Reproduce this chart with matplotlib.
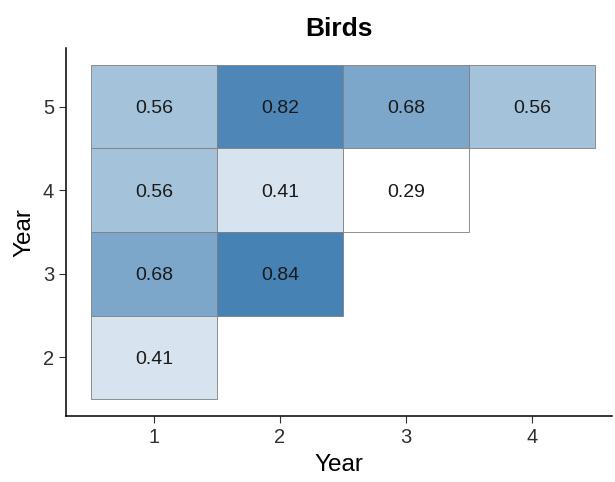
import matplotlib.pyplot as plt
from matplotlib.colors import LinearSegmentedColormap
from matplotlib.patches import Rectangle

plt.rcParams['font.family'] = ['Liberation Sans', 'DejaVu Sans']

# cell positions (x year, y year) and the values shown in them
x_year = [1, 2, 3, 4, 1, 2, 3, 1, 2, 1]
y_year = [5, 5, 5, 5, 4, 4, 4, 3, 3, 2]
values = [0.56, 0.82, 0.68, 0.56, 0.56, 0.41, 0.29, 0.68, 0.84, 0.41]

cmap = LinearSegmentedColormap.from_list('wb', ['#ffffff', '#4682b4'])
vmin, vmax = min(values), max(values)

fig = plt.figure(figsize=(6.15, 4.82), dpi=100)
ax = fig.add_axes([0.107, 0.137, 0.888, 0.763])

for x, y, v in zip(x_year, y_year, values):
    c = cmap((v - vmin) / (vmax - vmin))
    ax.add_patch(Rectangle((x - 0.5, y - 0.5), 1, 1, facecolor=c,
                           edgecolor='#7f7f7f', linewidth=0.6))
    ax.text(x, y, f'{v:.2f}', ha='center', va='center_baseline',
            fontsize=14, color='#1a1a1a')

ax.set_xlim(0.3, 4.635)
ax.set_ylim(1.3, 5.7)
ax.set_xticks([1, 2, 3, 4])
ax.set_yticks([2, 3, 4, 5])
ax.tick_params(labelsize=14.5, colors='#303030', length=5, width=0.8)
for s in ['top', 'right']:
    ax.spines[s].set_visible(False)
for s in ['left', 'bottom']:
    ax.spines[s].set_linewidth(1.1)
ax.set_xlabel('Year', fontsize=17.5, labelpad=5)
ax.set_ylabel('Year', fontsize=17.5, labelpad=5)
ax.set_title('Birds', fontsize=19, fontweight='bold', pad=9)

fig.savefig('out.png', dpi=100)
